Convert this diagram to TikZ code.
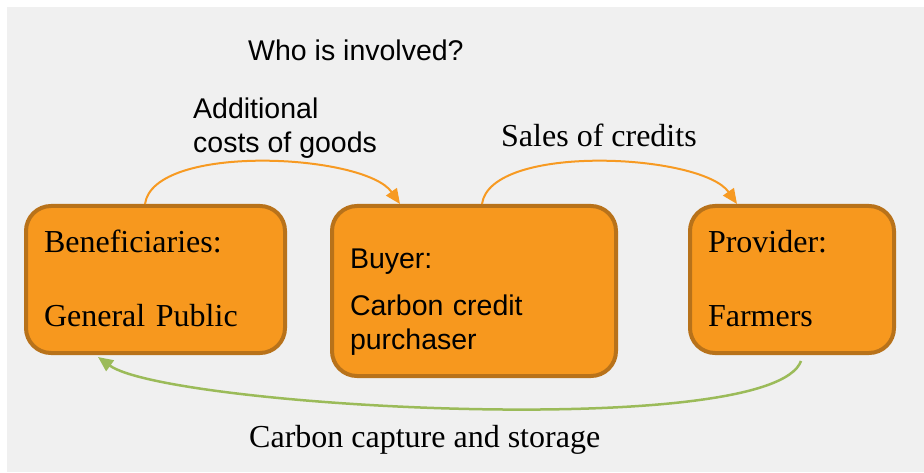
\documentclass[tikz,border=0pt]{standalone}
\usepackage{fontspec}
\setmainfont{Liberation Serif}
\newfontfamily\arialfont{Liberation Sans}
\usetikzlibrary{arrows.meta}
\definecolor{boxfill}{HTML}{F7981E}
\definecolor{boxedge}{HTML}{B8721A}
\definecolor{flowline}{HTML}{F79A22}
\definecolor{greenline}{HTML}{9BBB59}
\definecolor{backgray}{HTML}{F0F0F0}
\tikzset{
  party/.style={draw=boxedge, fill=boxfill, line width=4pt, rounded corners=25pt,
    align=left, inner xsep=18pt, inner ysep=0pt},
  serif/.style={font=\fontsize{32}{38}\selectfont},
  sans/.style={font=\arialfont\fontsize{28.5}{34}\selectfont},
  flow/.style={draw=flowline, line width=2pt, -{Triangle[length=15pt,width=13pt]}},
  capture/.style={draw=greenline, line width=2.5pt, -{Triangle[length=15pt,width=13pt]}}
}
\begin{document}
\begin{tikzpicture}[x=1pt,y=1pt]
                    \useasboundingbox (0,0) rectangle (924,472);
                    \fill[backgray] (7,0) rectangle (924,465);
                    \node[party, serif, minimum width=259pt, minimum height=147pt, text width=223pt,
                        text height=22pt, text depth=75pt] (ben) at (155.5,192.5)
                        {Beneficiaries:\\[36pt]General Public};
                    \node[party, sans, minimum width=284pt, minimum height=170pt, text width=248pt,
                        text height=21pt, text depth=67pt] (buyer) at (474,181)
                        {Buyer:\\[14pt]Carbon credit\\purchaser};
                    \node[party, serif, minimum width=204pt, minimum height=147pt, text width=168pt,
                        text height=22pt, text depth=75pt] (prov) at (792,192.5)
                        {Provider:\\[36pt]Farmers};
                    \node[sans, anchor=west, inner sep=0pt] (who) at (248,422) {Who is involved?};
                    \node[sans, anchor=west, align=left, inner sep=0pt] (cost) at (193,344) {Additional\\costs of goods};
                    \node[serif, anchor=west, inner sep=0pt] (sales) at (501,337) {Sales of credits};
                    \node[serif, anchor=west, inner sep=0pt] (store) at (249,32) {Carbon capture and storage};
                    \draw[flow] ([xshift=121pt]ben.north west) to[out=82,in=125,looseness=0.62] ([xshift=70pt]buyer.north west);
                    \draw[flow] ([xshift=152pt]buyer.north west) to[out=82,in=125,looseness=0.62] ([xshift=49pt]prov.north west);
                    \draw[capture] ([xshift=113pt,yshift=-6pt]prov.south west) to[out=-110,in=-36,looseness=0.31] ([xshift=74pt,yshift=-2pt]ben.south west);
                \end{tikzpicture}
\end{document}
